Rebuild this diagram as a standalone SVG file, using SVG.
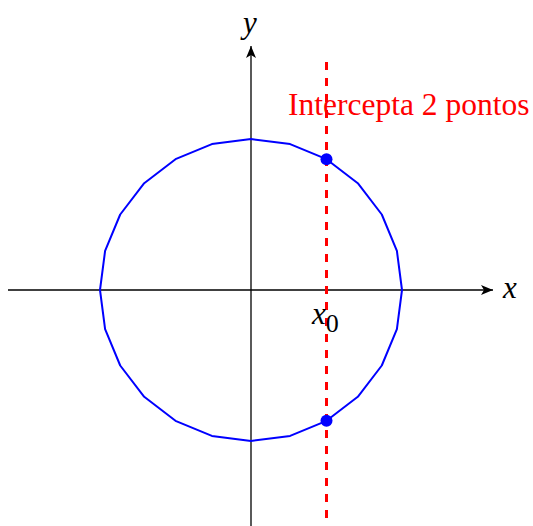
<svg xmlns="http://www.w3.org/2000/svg" width="533" height="526" viewBox="0 0 533 526">
<style>
.axis{stroke:#000;stroke-width:1.3;fill:none}
.circ{stroke:#0000ff;stroke-width:2;fill:none;stroke-linejoin:round}
.dash{stroke:#ff0000;stroke-width:3;stroke-dasharray:8 8}
.lbl{font-family:"Liberation Serif",serif;font-style:italic;font-size:31px;fill:#000}
.red{font-family:"Liberation Serif",serif;font-size:31.5px;fill:#ff0000}
</style>
<defs>
<marker id="arr" viewBox="0 0 12 10" refX="12" refY="5" markerWidth="12" markerHeight="10" markerUnits="userSpaceOnUse" orient="auto">
<path d="M0,0 L12,5 L0,10 L3,5 Z" fill="#000"/>
</marker>
</defs>
<g id="connectors">
<line class="axis" x1="8" y1="290" x2="493" y2="290" marker-end="url(#arr)"/>
<line class="axis" x1="251" y1="526" x2="251" y2="46" marker-end="url(#arr)"/>
</g>
<g id="circle">
<polygon class="circ" points="251,139 290.1,144.1 326.5,159.2 357.8,183.2 381.8,214.5 396.9,250.9 402,290 396.9,329.1 381.8,365.5 357.8,396.8 326.5,420.8 290.1,435.9 251,441 211.9,435.9 175.5,420.8 144.2,396.8 120.2,365.5 105.1,329.1 100,290 105.1,250.9 120.2,214.5 144.2,183.2 175.5,159.2 211.9,144.1"/>
</g>
<g id="line">
<line class="dash" x1="326.5" y1="62" x2="326.5" y2="518"/>
</g>
<g id="points">
<circle cx="326.5" cy="159.2" r="6" fill="#0000ff"/>
<circle cx="326.5" cy="420.8" r="6" fill="#0000ff"/>
</g>
<g id="labels">
<text class="lbl" x="243" y="33">y</text>
<text class="lbl" x="503" y="298">x</text>
<text class="lbl" x="312" y="324">x<tspan font-style="normal" dy="8" font-size="26">0</tspan></text>
<text class="red" x="288" y="115">Intercepta 2 pontos</text>
</g>
</svg>
